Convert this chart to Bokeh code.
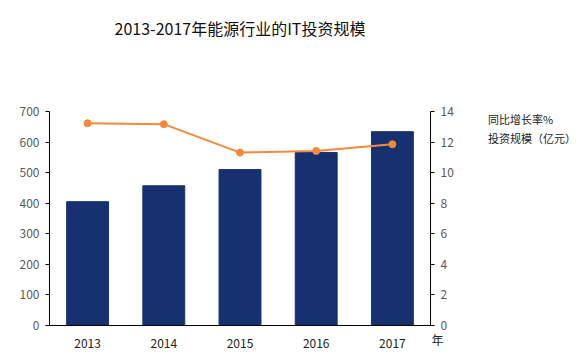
from bokeh.plotting import figure
from bokeh.layouts import row
from bokeh.models import (Range1d, LinearAxis, FactorRange, Legend, LegendItem,
                          Title, FixedTicker, ColumnDataSource)
from bokeh.embed import file_html
from bokeh.resources import INLINE

years = ["2013", "2014", "2015", "2016", "2017"]
invest = [405, 457, 510, 566, 634]
growth = [13.23, 13.17, 11.31, 11.42, 11.86]
left_ticks = [0, 100, 200, 300, 400, 500, 600, 700]
right_ticks = [0, 2, 4, 6, 8, 10, 12, 14]
legend_labels = ["同比增长率%", "投资规模（亿元）"]
title_text = "2013-2017年能源行业的IT投资规模"

FONT = "Noto Sans CJK SC"
BAR = "#17306F"
ORANGE = "#F5883A"

src = ColumnDataSource(dict(year=years, invest=invest, growth=growth))

p = figure(frame_width=381, frame_height=214,
           x_range=FactorRange(*years, range_padding=0),
           y_range=Range1d(0, 700), output_backend="svg", toolbar_location=None,
           min_border_left=49, min_border_right=30, min_border_top=110,
           min_border_bottom=36)
p.extra_y_ranges = {"pct": Range1d(0, 14)}
p.outline_line_color = None
p.xgrid.visible = False
p.ygrid.visible = False

bars = p.vbar(x="year", top="invest", width=0.55, source=src, color=BAR)
line = p.line(x="year", y="growth", source=src, y_range_name="pct",
              line_color=ORANGE, line_width=2)
pts = p.scatter(x="year", y="growth", source=src, y_range_name="pct",
                size=7, color=ORANGE)

# left axis
ya = p.yaxis[0]
ya.ticker = FixedTicker(ticks=left_ticks)
ya.axis_line_color = "black"
ya.major_tick_line_color = "black"
ya.major_tick_out = 4
ya.major_tick_in = 0
ya.minor_tick_line_color = None
ya.major_label_text_font = FONT
ya.major_label_text_font_size = "12px"
ya.major_label_text_color = "#595959"
ya.major_label_standoff = 6

# right axis
ra = LinearAxis(y_range_name="pct", ticker=FixedTicker(ticks=right_ticks))
ra.axis_line_color = "black"
ra.major_tick_line_color = "black"
ra.major_tick_out = 4
ra.major_tick_in = 0
ra.minor_tick_line_color = None
ra.major_label_text_font = FONT
ra.major_label_text_font_size = "12px"
ra.major_label_text_color = "#595959"
ra.major_label_standoff = 6
p.add_layout(ra, "right")

# x axis
xa = p.xaxis[0]
xa.axis_line_color = "black"
xa.major_tick_line_color = None
xa.minor_tick_line_color = None
xa.major_label_text_font = FONT
xa.major_label_text_font_size = "12px"
xa.major_label_text_color = "#222222"
xa.major_label_standoff = 7

# title: spacer next to the frame, then the real title above it
p.title.text = ""
spacer = Title(text=" ", text_font=FONT, text_font_size="16px", standoff=41)
p.add_layout(spacer, "above")
main_title = Title(text=title_text, align="center", standoff=10,
                   text_font=FONT, text_font_size="16px",
                   text_font_style="normal", text_color="#111111")
p.add_layout(main_title, "above")

# "年" at the right end of the category axis
nian = Title(text="年", align="right", offset=-13, standoff=-40,
             vertical_align="top",
             text_font=FONT, text_font_size="12px", text_color="#222222",
             text_font_style="normal")
p.add_layout(nian, "below")

# legend panel to the right (same height as the chart)
lg = figure(width=122, height=360, output_backend="svg",
            toolbar_location=None, x_axis_location=None, y_axis_location=None,
            min_border_left=0, min_border_right=0, min_border_bottom=0,
            min_border_top=111, x_range=Range1d(0, 1), y_range=Range1d(0, 1))
lg.outline_line_color = None
lg.xgrid.visible = False
lg.ygrid.visible = False
l_line = lg.line(x=[], y=[], line_color=ORANGE, line_width=2)
l_pts = lg.scatter(x=[], y=[], size=7, color=ORANGE)
l_bar = lg.vbar(x=[], top=[], width=0.5, color=BAR)

legend = Legend(items=[LegendItem(label=legend_labels[0], renderers=[l_line, l_pts]),
                       LegendItem(label=legend_labels[1], renderers=[l_bar])],
                location="top_left", margin=0, padding=2, spacing=3,
                glyph_width=24, glyph_height=14, label_height=14,
                label_text_font=FONT, label_text_font_size="11px",
                label_text_color="#222222", label_standoff=4,
                border_line_color=None, background_fill_alpha=0)
lg.add_layout(legend)

layout = row(p, lg, spacing=0)
open("out.html", "w").write(file_html(layout, INLINE))
